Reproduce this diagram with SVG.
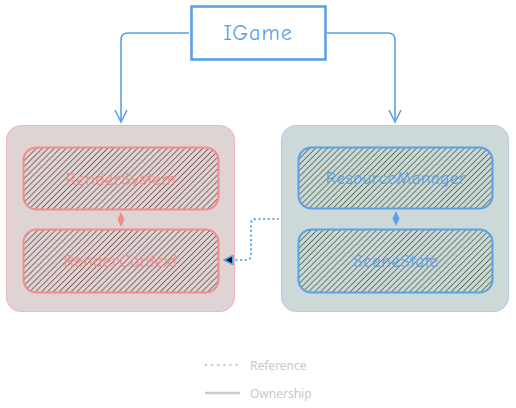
<svg xmlns="http://www.w3.org/2000/svg" width="516" height="408" viewBox="0 0 516 408">
<defs>
<pattern id="hatchR" patternUnits="userSpaceOnUse" width="4.2" height="4.2" patternTransform="rotate(45)">
<rect width="4.2" height="4.2" fill="#ddd3d3"/>
<line x1="0" y1="0" x2="0" y2="4.2" stroke="#6a4040" stroke-width="1.4"/>
</pattern>
<pattern id="hatchB" patternUnits="userSpaceOnUse" width="4.2" height="4.2" patternTransform="rotate(45)">
<rect width="4.2" height="4.2" fill="#cbd6d6"/>
<line x1="0" y1="0" x2="0" y2="4.2" stroke="#3a5e3c" stroke-width="1.4"/>
</pattern>
<marker id="tri" viewBox="0 0 10 10" refX="9" refY="5" markerWidth="11" markerHeight="11" markerUnits="userSpaceOnUse" orient="auto">
<path d="M1,1 L9,5 L1,9 Z" fill="#111" stroke="#5aa0e6" stroke-width="1.5" stroke-linejoin="round"/>
</marker>
</defs>
<style>
.lbl{font-family:"Comic Neue","Noto Sans","Liberation Sans",sans-serif;font-size:17px;letter-spacing:0.6px;text-anchor:middle;dominant-baseline:central}
.red{fill:#f48a8a}
.blu{fill:#5aa0e6}
.conn{fill:none;stroke:#5aa0e6;stroke-width:1.6}
.legend{font-family:"Noto Sans","Liberation Sans",sans-serif;font-size:12px;fill:#c8c8c8;dominant-baseline:central}
</style>
<rect width="516" height="408" fill="#ffffff"/>

<g id="left-container">
<rect x="6.5" y="125.5" width="228" height="186" rx="15" fill="#ded4d4" stroke="#f2b8b8" stroke-width="1.2"/>
</g>
<g id="right-container">
<rect x="281.5" y="125.5" width="227" height="186" rx="15" fill="#cdd8d8" stroke="#b7cde6" stroke-width="1.2"/>
</g>

<g id="RenderSystem">
<rect x="23.5" y="147.5" width="195" height="62" rx="13" fill="url(#hatchR)" stroke="#f48a8a" stroke-width="2"/>
<text class="lbl red" x="121" y="179">RenderSystem</text>
</g>
<g id="RenderContext">
<rect x="23.5" y="229.5" width="195" height="63" rx="13" fill="url(#hatchR)" stroke="#f48a8a" stroke-width="2"/>
<text class="lbl red" x="121" y="261">RenderContext</text>
</g>
<g id="ResourceManager">
<rect x="298.5" y="147.5" width="194" height="61" rx="13" fill="url(#hatchB)" stroke="#5aa0e6" stroke-width="2"/>
<text class="lbl blu" x="396" y="178">ResourceManager</text>
</g>
<g id="SceneState">
<rect x="298.5" y="229.5" width="194" height="63" rx="13" fill="url(#hatchB)" stroke="#5aa0e6" stroke-width="2"/>
<text class="lbl blu" x="396" y="261">SceneState</text>
</g>

<g id="IGame">
<rect x="191.5" y="6.5" width="134" height="53" fill="#ffffff" stroke="#5aa0e6" stroke-width="2.6"/>
<text class="lbl blu" x="258" y="33" style="font-size:22px;letter-spacing:1px">IGame</text>
</g>

<g id="connectors">
<path class="conn" d="M189,33 L128,33 Q121,33 121,40 L121,122"/>
<path class="conn" d="M115,110 L121,122 L127,110"/>
<path class="conn" d="M327,33 L388,33 Q395,33 395,40 L395,122"/>
<path class="conn" d="M389,110 L395,122 L401,110"/>
<path d="M121,212 L124.5,219.5 L121,227 L117.5,219.5 Z" fill="#f48a8a"/>
<path d="M396,211 L399.5,218.5 L396,226 L392.5,218.5 Z" fill="#5aa0e6"/>
<path d="M278,219 L256,219 Q251,219 251,224 L251,255 Q251,260 246,260 L224,260" fill="none" stroke="#5aa0e6" stroke-width="2.2" stroke-dasharray="0.1 4.5" stroke-linecap="round" marker-end="url(#tri)"/>
</g>

<g id="legend">
<line x1="206" y1="365" x2="240" y2="365" stroke="#cccccc" stroke-width="2.4" stroke-dasharray="0.1 6" stroke-linecap="round"/>
<text class="legend" x="250" y="365">Reference</text>
<line x1="205" y1="393" x2="240" y2="393" stroke="#cccccc" stroke-width="2.5"/>
<text class="legend" x="250" y="393">Ownership</text>
</g>
</svg>
